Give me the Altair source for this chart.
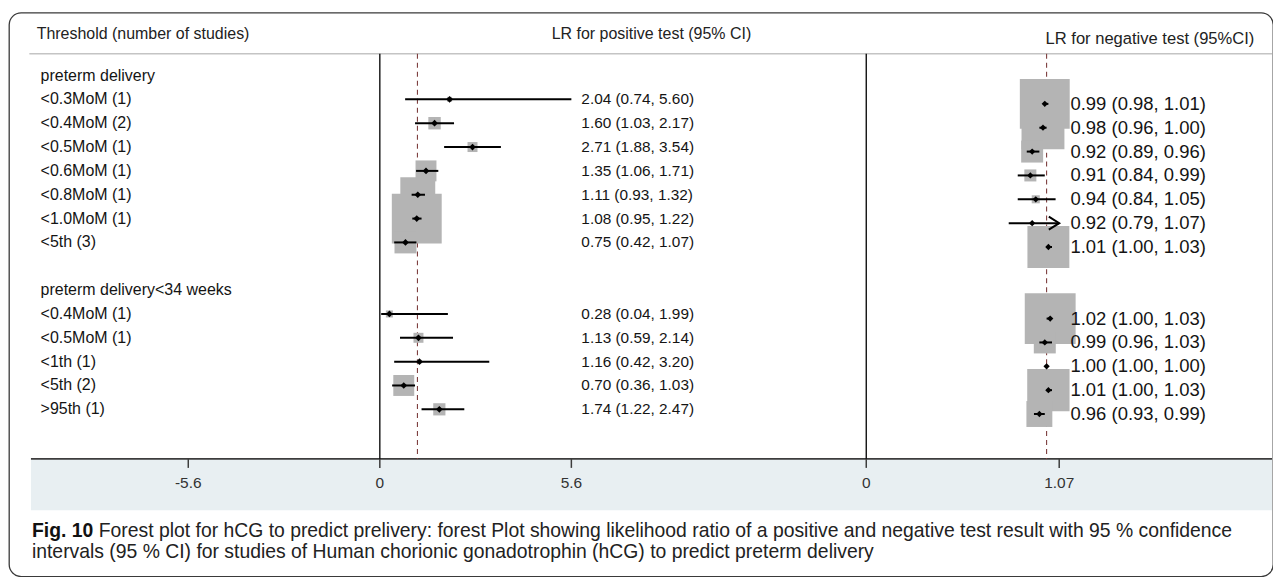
import altair as alt
import pandas as pd

# ---------------- data ----------------
row_labels = ["preterm delivery", "<0.3MoM (1)", "<0.4MoM (2)", "<0.5MoM (1)", "<0.6MoM (1)",
              "<0.8MoM (1)", "<1.0MoM (1)", "<5th (3)", "",
              "preterm delivery<34 weeks", "<0.4MoM (1)", "<0.5MoM (1)", "<1th (1)",
              "<5th (2)", ">95th (1)"]
label_rows = list(range(15))

study_rows = [1, 2, 3, 4, 5, 6, 7, 10, 11, 12, 13, 14]
pos_lr = [2.04, 1.60, 2.71, 1.35, 1.11, 1.08, 0.75, 0.28, 1.13, 1.16, 0.70, 1.74]
pos_lo = [0.74, 1.03, 1.88, 1.06, 0.93, 0.95, 0.42, 0.04, 0.59, 0.42, 0.36, 1.22]
pos_hi = [5.60, 2.17, 3.54, 1.71, 1.32, 1.22, 1.07, 1.99, 2.14, 3.20, 1.03, 2.47]
pos_weight = [1.0, 6.2, 4.0, 17.6, 49.0, 100.0, 19.4, 2.0, 4.0, 0.6, 17.6, 6.0]

neg_lr = [0.99, 0.98, 0.92, 0.91, 0.94, 0.92, 1.01, 1.02, 0.99, 1.00, 1.01, 0.96]
neg_lo = [0.98, 0.96, 0.89, 0.84, 0.84, 0.79, 1.00, 1.00, 0.96, 1.00, 1.00, 0.93]
neg_hi = [1.01, 1.00, 0.96, 0.99, 1.05, 1.07, 1.03, 1.03, 1.03, 1.00, 1.03, 0.99]
neg_weight = [100.0, 74.0, 19.4, 5.8, 2.6, 0.4, 70.6, 104.0, 19.4, 0.0, 72.0, 27.0]
neg_truncated = [False, False, False, False, False, True, False, False, False, False, False, False]

pos_ref = [1.1]
neg_ref = [1.0]
zero_line = [0]
pos_ticks = [-5.6, 0, 5.6]
pos_tick_labels = ["-5.6", "0", "5.6"]
neg_ticks = [0, 1.07]
neg_tick_labels = ["0", "1.07"]

header_left = "Threshold (number of studies)"
header_pos = "LR for positive test (95% CI)"
header_neg = "LR for negative test (95%CI)"
caption_bold = "Fig. 10"
caption_line1 = ("Forest plot for hCG to predict prelivery: forest Plot showing likelihood ratio "
                 "of a positive and negative test result with 95 % confidence")
caption_line2 = ("intervals (95 % CI) for studies of Human chorionic gonadotrophin (hCG) "
                 "to predict preterm delivery")

# ---------------- tables ----------------
studies = pd.DataFrame({
    "row": study_rows,
    "pos": pos_lr, "pos_lo": pos_lo, "pos_hi": pos_hi, "pos_w": pos_weight,
    "neg": neg_lr, "neg_lo": neg_lo, "neg_hi": neg_hi, "neg_w": neg_weight,
    "neg_trunc": neg_truncated,
})
studies["pos_text"] = [f"{e:.2f} ({l:.2f}, {h:.2f})" for e, l, h in zip(pos_lr, pos_lo, pos_hi)]
studies["neg_text"] = [f"{e:.2f} ({l:.2f}, {h:.2f})" for e, l, h in zip(neg_lr, neg_lo, neg_hi)]
labels_df = pd.DataFrame({"row": label_rows, "label": row_labels})
one = pd.DataFrame({"a": [0]})
zero_df = pd.DataFrame({"v": zero_line})
pos_ref_df = pd.DataFrame({"v": pos_ref})
neg_ref_df = pd.DataFrame({"v": neg_ref})
pos_tick_df = pd.DataFrame({"v": pos_ticks, "t": pos_tick_labels})
neg_tick_df = pd.DataFrame({"v": neg_ticks, "t": neg_tick_labels})

# ---------------- scales ----------------
X_POS = alt.Scale(domain=[0, 5.6], range=[371.7, 563.7], nice=False, zero=False)
X_NEG = alt.Scale(domain=[0, 1.07], range=[859.3, 1052.7], nice=False, zero=False)
Y_POS = alt.Scale(domain=[0, 14], range=[63, 397.6], nice=False, zero=False)
Y_NEG = alt.Scale(domain=[0, 14], range=[67.5, 402.3], nice=False, zero=False)
SIZE = alt.Scale(domain=[0, 100], range=[0, 2500], zero=True)

FONT = "Liberation Sans, Arial, sans-serif"
TOP, BOTTOM = 41.3, 447.3

def xpos(f):
    return alt.X(f, type="quantitative", scale=X_POS, axis=None)

def xneg(f):
    return alt.X(f, type="quantitative", scale=X_NEG, axis=None)

ypos = alt.Y("row:Q", scale=Y_POS, axis=None)
yneg = alt.Y("row:Q", scale=Y_NEG, axis=None)

layers = []

# bottom band + lines
layers.append(alt.Chart(one).mark_rect(fill="#e8eff2").encode(
    x=alt.value(22), x2=alt.value(1266), y=alt.value(BOTTOM), y2=alt.value(498.7)))
layers.append(alt.Chart(one).mark_rule(color="#c4c4c4", strokeWidth=1.5).encode(
    x=alt.value(20.4), x2=alt.value(1266), y=alt.value(TOP)))
layers.append(alt.Chart(one).mark_rule(color="#3d3d3d", strokeWidth=1.8).encode(
    x=alt.value(22), x2=alt.value(1266), y=alt.value(BOTTOM)))

# vertical zero lines
layers.append(alt.Chart(zero_df).mark_rule(color="#111111", strokeWidth=1.4).encode(
    x=xpos("v"), y=alt.value(TOP), y2=alt.value(BOTTOM)))
layers.append(alt.Chart(zero_df).mark_rule(color="#111111", strokeWidth=1.4).encode(
    x=xneg("v"), y=alt.value(TOP), y2=alt.value(BOTTOM)))

# dashed reference lines
layers.append(alt.Chart(pos_ref_df).mark_rule(color="#7d3f3f", strokeWidth=1.1, strokeDash=[5, 4]).encode(
    x=xpos("v"), y=alt.value(TOP), y2=alt.value(BOTTOM)))
layers.append(alt.Chart(neg_ref_df).mark_rule(color="#7d3f3f", strokeWidth=1.1, strokeDash=[5, 4]).encode(
    x=xneg("v"), y=alt.value(TOP), y2=alt.value(BOTTOM)))

# weight boxes
layers.append(alt.Chart(studies).mark_square(color="#b4b4b4", opacity=1).encode(
    x=xpos("pos"), y=ypos, size=alt.Size("pos_w:Q", scale=SIZE, legend=None)))
layers.append(alt.Chart(studies).mark_square(color="#b4b4b4", opacity=1).encode(
    x=xneg("neg"), y=yneg, size=alt.Size("neg_w:Q", scale=SIZE, legend=None)))

# confidence intervals
layers.append(alt.Chart(studies).mark_rule(color="black", strokeWidth=2).encode(
    x=xpos("pos_lo"), x2="pos_hi", y=ypos))
layers.append(alt.Chart(studies).mark_rule(color="black", strokeWidth=2).encode(
    x=xneg("neg_lo"), x2="neg_hi", y=yneg))

# truncation arrow
layers.append(alt.Chart(studies).transform_filter("datum.neg_trunc").mark_point(
    shape="M-1.6,-1L0,0L-1.6,1", filled=False, color="black", strokeWidth=2, size=170, opacity=1
).encode(x=xneg("neg_hi"), y=yneg))

# point estimates
layers.append(alt.Chart(studies).mark_point(shape="diamond", filled=True, color="black", size=45, opacity=1).encode(
    x=xpos("pos"), y=ypos))
layers.append(alt.Chart(studies).mark_point(shape="diamond", filled=True, color="black", size=40, opacity=1).encode(
    x=xneg("neg"), y=yneg))

# texts
layers.append(alt.Chart(labels_df).mark_text(align="left", baseline="middle", font=FONT, fontSize=16, color="#141414").encode(
    x=alt.value(31.7), y=ypos, text="label:N"))
layers.append(alt.Chart(studies).mark_text(align="left", baseline="middle", font=FONT, fontSize=15.4, color="#141414").encode(
    x=alt.value(573.7), y=ypos, text="pos_text:N"))
layers.append(alt.Chart(studies).mark_text(align="left", baseline="middle", font=FONT, fontSize=18.5, color="#141414").encode(
    x=alt.value(1064), y=yneg, text="neg_text:N"))

layers.append(alt.Chart(one).mark_text(align="left", baseline="middle", font=FONT, fontSize=16, color="#222222", text=header_left).encode(
    x=alt.value(27.7), y=alt.value(21.3)))
layers.append(alt.Chart(one).mark_text(align="left", baseline="middle", font=FONT, fontSize=16, color="#222222", text=header_pos).encode(
    x=alt.value(544), y=alt.value(21.3)))
layers.append(alt.Chart(one).mark_text(align="left", baseline="middle", font=FONT, fontSize=16.6, color="#222222", text=header_neg).encode(
    x=alt.value(1039), y=alt.value(26.3)))

# axis ticks and tick labels
layers.append(alt.Chart(pos_tick_df).mark_rule(color="#3d3d3d", strokeWidth=1.5).encode(
    x=xpos("v"), y=alt.value(BOTTOM), y2=alt.value(456.3)))
layers.append(alt.Chart(neg_tick_df).mark_rule(color="#3d3d3d", strokeWidth=1.5).encode(
    x=xneg("v"), y=alt.value(BOTTOM), y2=alt.value(456.3)))
layers.append(alt.Chart(pos_tick_df).mark_text(baseline="middle", font=FONT, fontSize=15.5, color="#333333").encode(
    x=xpos("v"), y=alt.value(471.3), text="t:N"))
layers.append(alt.Chart(neg_tick_df).mark_text(baseline="middle", font=FONT, fontSize=15.5, color="#333333").encode(
    x=xneg("v"), y=alt.value(471.3), text="t:N"))

# caption
CAP_FONT = "Liberation Sans, Arial, sans-serif"
layers.append(alt.Chart(one).mark_text(align="left", baseline="middle", font=CAP_FONT, fontSize=19.4, fontWeight="bold",
                                       color="#111111", text=caption_bold).encode(x=alt.value(23), y=alt.value(520)))
layers.append(alt.Chart(one).mark_text(align="left", baseline="middle", font=CAP_FONT, fontSize=19.4,
                                       color="#222222", text=caption_line1).encode(x=alt.value(90), y=alt.value(520)))
layers.append(alt.Chart(one).mark_text(align="left", baseline="middle", font=CAP_FONT, fontSize=19.4,
                                       color="#222222", text=caption_line2).encode(x=alt.value(23), y=alt.value(541)))

chart = alt.layer(*layers).resolve_scale(
    x="independent", y="independent", size="independent"
).properties(
    width=1267, height=565,
    padding={"left": 1, "top": 4, "right": 0, "bottom": 0},
).configure_view(
    stroke="#3a3a3a", strokeWidth=1.3, cornerRadius=12
)

chart.save("out.html", embed_options={"renderer": "svg", "actions": False})
